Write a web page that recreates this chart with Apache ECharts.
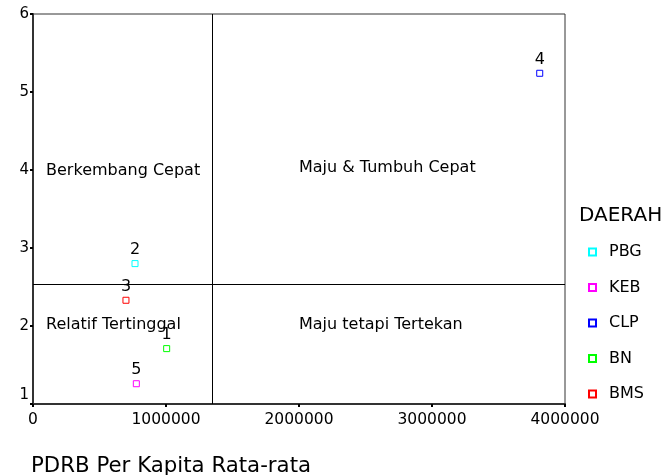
<!DOCTYPE html>
<html><head><meta charset="utf-8">
<script src="https://cdn.jsdelivr.net/npm/echarts@6/dist/echarts.min.js"></script>
<style>html,body{margin:0;padding:0;background:#fff}#c{width:671px;height:475px}</style>
</head><body><div id="c"></div>
<script>
const regions = ['PBG','KEB','CLP','BN','BMS'];
const regionIds = ['2','5','4','1','3'];
const pdrb = [767000, 777000, 3810000, 1005000, 699000];
const growth = [2.80, 1.26, 5.24, 1.71, 2.33];
const colors = ['#00ffff','#ff00ff','#0000ff','#00ff00','#ff0000'];
const xTicks = [0, 1000000, 2000000, 3000000, 4000000];
const yTicks = [1, 2, 3, 4, 5, 6];
const avgPdrb = 1351000;
const avgGrowth = 2.535;
const quadNames = ['Berkembang Cepat','Maju & Tumbuh Cepat','Relatif Tertinggal','Maju tetapi Tertekan'];
const quadX = [98000, 2000000, 98000, 2000000];
const quadY = [3.99, 4.03, 2.02, 2.02];

const font = 'DejaVu Sans';
const series = regions.map((r,i)=>({
  name: r, type:'scatter', symbol:'rect', symbolSize:6,
  itemStyle:{color:'#fff', borderColor:colors[i], borderWidth:1, opacity:1},
  label:{show:true, position:'top', distance:2, formatter:regionIds[i], color:'#000', fontSize:16, fontFamily:font},
  data:[[pdrb[i], growth[i]]],
  z:5
}));
series.push({
  name:'quad', type:'scatter', symbolSize:0, silent:true,
  itemStyle:{opacity:1},
  label:{show:true, position:'right', distance:0, align:'left', formatter:p=>quadNames[p.dataIndex], color:'#000', fontSize:16, fontFamily:font},
  data: quadX.map((x,i)=>[x, quadY[i]]),
  markLine:{symbol:'none', silent:true, label:{show:false},
    lineStyle:{color:'#000', width:1, type:'solid', opacity:1},
    data:[{xAxis:avgPdrb},{yAxis:avgGrowth}]}
});
const chart = echarts.init(document.getElementById('c'));
chart.setOption({
  animation:false,
  grid:{left:33, top:14, right:106, bottom:71, show:true, borderColor:'#333', borderWidth:1,
    containLabel:false, outerBoundsMode:'none'},
  title:{text:'DAERAH', left:574, top:201, textStyle:{fontSize:20, fontWeight:'normal', color:'#000', fontFamily:font}},
  legend:{data:regions, orient:'vertical', left:583, top:239, itemWidth:7, itemHeight:7, itemGap:19.5,
    textStyle:{fontSize:16, color:'#000', fontFamily:font, padding:[0,0,0,8]}},
  xAxis:{type:'value', min:xTicks[0], max:xTicks[xTicks.length-1], interval:1000000,
    name:'PDRB Per Kapita Rata-rata', nameLocation:'start', nameGap:0,
    nameTextStyle:{fontSize:21.3, color:'#000', fontFamily:font, align:'left', verticalAlign:'top', padding:[52,0,0,-2]},
    axisLine:{show:true, onZero:false, lineStyle:{color:'#333', width:2}},
    axisTick:{show:true, length:3, lineStyle:{color:'#000', width:2}},
    axisLabel:{fontSize:15.5, color:'#000', fontFamily:font, margin:8, formatter:v=>String(v)},
    splitLine:{show:false}},
  yAxis:{type:'value', min:yTicks[0], max:yTicks[yTicks.length-1], interval:1,
    axisLine:{show:true, onZero:false, lineStyle:{color:'#333', width:2}},
    axisTick:{show:true, length:3, lineStyle:{color:'#000', width:2}},
    axisLabel:{fontSize:15, color:'#000', fontFamily:font, margin:4,
      formatter:v=> v===yTicks[0] ? '{lo|'+v+'}' : String(v),
      rich:{lo:{fontSize:15, color:'#000', fontFamily:font, padding:[0,0,18,0]}}},
    splitLine:{show:false}},
  series: series
});
</script></body></html>
